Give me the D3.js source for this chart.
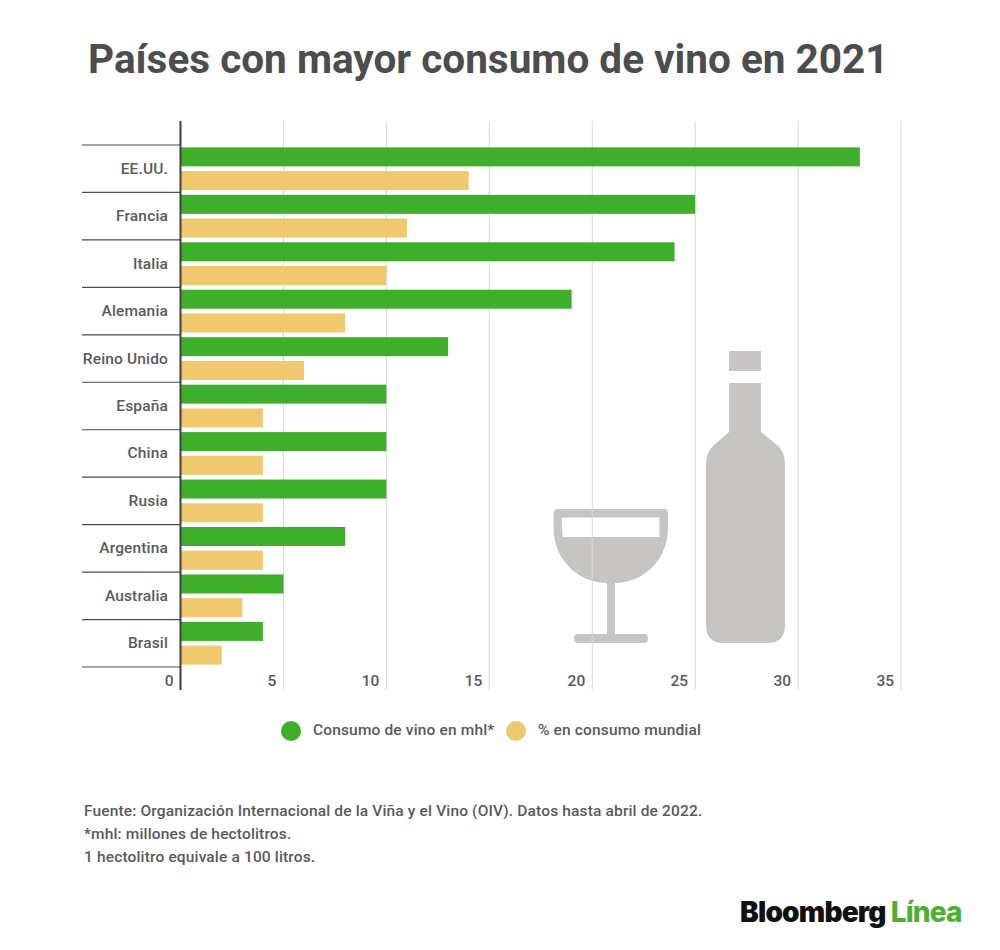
<!DOCTYPE html>
<html lang="es">
<head>
<meta charset="utf-8">
<title>Consumo de vino</title>
<script src="https://d3js.org/d3.v7.min.js"></script>
<style>
  html, body { margin: 0; padding: 0; background: #fff; }
  text { font-family: Roboto, sans-serif; }
</style>
</head>
<body>
<script>
// data
var countries = ["EE.UU.", "Francia", "Italia", "Alemania", "Reino Unido", "España", "China", "Rusia", "Argentina", "Australia", "Brasil"];
var consumo = [33, 25, 24, 19, 13, 10, 10, 10, 8, 5, 4];
var porcentaje = [14, 11, 10, 8, 6, 4, 4, 4, 4, 3, 2];
var xTicks = [0, 5, 10, 15, 20, 25, 30, 35];
var legendLabels = ["Consumo de vino en mhl*", "% en consumo mundial"];
var notes = [
  "Fuente: Organización Internacional de la Viña y el Vino (OIV). Datos hasta abril de 2022.",
  "*mhl: millones de hectolitros.",
  "1 hectolitro equivale a 100 litros."
];

var green = "#3fae2a", yellow = "#f0c96f", ink = "#4d4d4f", labelInk = "#5a5a5c", gridColor = "#d8d8d8", iconColor = "#c6c5c3";
var labelSize = 15.5, labelSpacing = 0.15;

var svg = d3.select("body").append("svg")
  .attr("width", 1000)
  .attr("height", 950)
  .style("display", "block");

var x = d3.scaleLinear().domain([0, 35]).range([180.5, 901]);
var y = d3.scaleBand().domain(countries).range([145, 667]);
var inner = d3.scaleBand().domain([0, 1]).range([0, y.bandwidth()]).paddingInner(0.2).paddingOuter(0.1);

// title
svg.append("text")
  .attr("x", 88).attr("y", 73)
  .attr("font-size", 40.5).attr("font-weight", 700)
  .attr("fill", ink)
  .text("Países con mayor consumo de vino en 2021");

// wine glass and bottle sit under the grid
svg.append("path")
  .attr("fill", iconColor)
  .attr("fill-rule", "evenodd")
  .attr("d", "M558 509H664Q668 509 668 514V528C668 561 642 583 615 583V634H644Q648 634 648 638.500Q648 643 644 643H578Q574 643 574 638.500Q574 634 578 634H607V583C580 583 553.500 561 553.500 528V514Q553.500 509 558 509Z" +
    "M561.500 517.500L562.500 537H659.500V517.500Z");
svg.append("rect").attr("x", 729).attr("y", 351).attr("width", 32).attr("height", 20).attr("fill", iconColor);
svg.append("path")
  .attr("fill", iconColor)
  .attr("d", "M729 383H761V432L777 445Q785 452 785 464V625Q785 643 767 643H724Q706 643 706 625V464Q706 452 714 445L729 432Z");

// vertical grid
svg.append("g").selectAll("line")
  .data(xTicks.slice(1))
  .join("line")
  .attr("x1", d => x(d)).attr("x2", d => x(d))
  .attr("y1", 121).attr("y2", 690)
  .attr("stroke", gridColor).attr("stroke-width", 1);

// x tick labels sit just left of each grid line
svg.append("g").selectAll("text")
  .data(xTicks)
  .join("text")
  .attr("x", d => x(d) - 7)
  .attr("y", 686)
  .attr("text-anchor", "end")
  .attr("font-size", labelSize).attr("font-weight", 500)
  .attr("fill", labelInk)
  .text(d => d);

// bars
var rows = svg.append("g").selectAll("g")
  .data(countries)
  .join("g")
  .attr("transform", d => "translate(0," + y(d) + ")");

rows.append("rect")
  .attr("x", x(0)).attr("y", inner(0))
  .attr("width", (d, i) => x(consumo[i]) - x(0))
  .attr("height", inner.bandwidth())
  .attr("fill", green);

rows.append("rect")
  .attr("x", x(0)).attr("y", inner(1))
  .attr("width", (d, i) => x(porcentaje[i]) - x(0))
  .attr("height", inner.bandwidth())
  .attr("fill", yellow);

rows.append("text")
  .attr("x", 168)
  .attr("y", y.bandwidth() / 2 + 5)
  .attr("text-anchor", "end")
  .attr("font-size", labelSize).attr("font-weight", 500)
  .attr("letter-spacing", labelSpacing)
  .attr("fill", labelInk)
  .text(d => d);

// row separators
svg.append("g").selectAll("line")
  .data(countries.map(d => y(d)).concat([y.range()[1]]))
  .join("line")
  .attr("x1", 82).attr("x2", 180)
  .attr("y1", d => d).attr("y2", d => d)
  .attr("stroke", ink).attr("stroke-width", 1.2);

// y axis line
svg.append("line")
  .attr("x1", x(0)).attr("x2", x(0))
  .attr("y1", 121).attr("y2", 690)
  .attr("stroke", "#3f3f41").attr("stroke-width", 2);

// legend
var legend = svg.append("g").selectAll("g")
  .data(legendLabels)
  .join("g")
  .attr("transform", (d, i) => "translate(" + [291, 516][i] + ",731)");

legend.append("circle")
  .attr("r", 10)
  .attr("fill", (d, i) => [green, yellow][i]);

legend.append("text")
  .attr("x", 22).attr("y", 4)
  .attr("font-size", labelSize).attr("font-weight", 500)
  .attr("letter-spacing", labelSpacing)
  .attr("fill", labelInk)
  .text(d => d);

// notes
svg.append("g").selectAll("text")
  .data(notes)
  .join("text")
  .attr("x", 84)
  .attr("y", (d, i) => 816 + i * 23)
  .attr("font-size", labelSize).attr("font-weight", 500)
  .attr("letter-spacing", labelSpacing)
  .attr("fill", labelInk)
  .text(d => d);

// logo
var logo = svg.append("text")
  .attr("x", 740).attr("y", 922)
  .attr("font-size", 28).attr("font-weight", 900)
  .style("font-family", "Inter, sans-serif")
  .attr("letter-spacing", -0.8);
logo.append("tspan").attr("fill", "#111").text("Bloomberg");
logo.append("tspan").attr("fill", "#4cb034").attr("dx", 5).attr("font-weight", 800).text("Línea");
</script>
</body>
</html>
